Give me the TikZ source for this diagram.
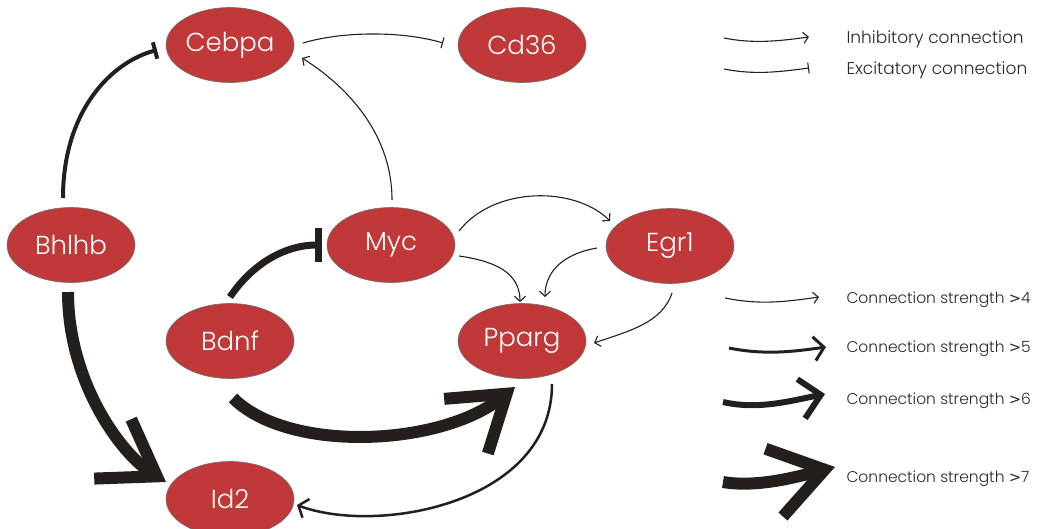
\documentclass[tikz,border=0pt]{standalone}
\usepackage{fontspec}
\setmainfont{Poppins}[UprightFont=* Light]
\newfontfamily\symfont{DejaVu Sans}[Scale=0.95]
\usetikzlibrary{arrows.meta,shapes.geometric,calc}
\definecolor{genered}{RGB}{192,57,56}
\definecolor{ink}{RGB}{35,31,28}
\definecolor{legink}{RGB}{40,40,40}
\begin{document}
\begin{tikzpicture}[x=1pt,y=-1pt,
  gene/.style={ellipse, fill=genered, draw=black!55, line width=0.6pt,
    minimum width=128pt, minimum height=75pt, inner sep=0pt, text=white,
    font=\fontsize{26}{26}\selectfont},
  edge/.style={draw=ink},
  thinarr/.style={edge, line width=1.1pt, -{Straight Barb[length=5pt,width=11pt]}},
  medarr/.style={edge, line width=2.5pt, -{Straight Barb[length=8pt,width=20pt,sharp]}},
  arrfive/.style={edge, line width=3pt, -{Straight Barb[length=10pt,width=24pt,sharp]}},
  arrsix/.style={edge, line width=6pt, -{Straight Barb[length=20pt,width=40pt,sharp]}},
  bigarr/.style={edge, line width=12pt, -{Straight Barb[length=52pt,width=70pt,sharp]}},
  thinbar/.style={edge, line width=1.1pt, -{Bar[width=11pt]}},
  medbar/.style={edge, line width=4pt, -{Bar[width=17pt]}},
  thickbar/.style={edge, line width=7pt, -{Bar[width=34pt]}},
  legtxt/.style={anchor=west, text=legink, font=\fontsize{17}{18}\selectfont},
  strtxt/.style={anchor=west, text=legink, font=\fontsize{15.5}{16}\selectfont}
]
\useasboundingbox (0,0) rectangle (1041,528);

% genes
\node[gene] (cebpa) at (230,45) {Cebpa};
\node[gene] (cd36)  at (522,45) {Cd36};
\node[gene] (bhlhb) at (71,245) {Bhlhb};
\node[gene] (myc)   at (391,245) {Myc};
\node[gene] (egr1)  at (670,246) {Egr1};
\node[gene] (bdnf)  at (230,341) {Bdnf};
\node[gene] (pparg) at (522,341) {Pparg};
\node[gene] (id2)   at (230,499) {Id2};

% connections
\draw[medbar] ($(bhlhb)+(-8,-47)$) .. controls +(0,-88) and +(-45,12) .. ($(cebpa)+(-73,5)$);
\draw[thinbar] ($(cebpa)+(73,-2)$) .. controls +(40,-12) and +(-40,-12) .. ($(cd36)+(-79,-2)$);
\draw[thinarr] ($(myc)+(1,-45)$) .. controls +(0,-70) and +(40,25) .. ($(cebpa)+(72,13)$);
\draw[thinarr] ($(myc)+(68,-14)$) .. controls +(35,-45) and +(-35,-35) .. ($(egr1)+(-60,-25)$);
\draw[thinarr] ($(myc)+(68,11)$) .. controls +(35,5) and +(0,-30) .. ($(pparg)+(-2,-39)$);
\draw[thinarr] ($(egr1)+(-73,2)$) .. controls +(-30,5) and +(0,-28) .. ($(pparg)+(23,-44)$);
\draw[thinarr] ($(egr1)+(2,47)$) .. controls +(-10,30) and +(35,-12) .. ($(pparg)+(72,2)$);
\draw[thickbar] ($(bdnf)+(0,-44)$) .. controls +(20,-30) and +(-40,0) .. ($(myc)+(-69,0)$);
\draw[bigarr] ($(bhlhb)+(-3,47)$) .. controls +(0,90) and +(-45,-28) .. ($(id2)+(-64,-17)$);
\draw[bigarr] ($(bdnf)+(3,57)$) .. controls +(55,55) and +(-75,60) .. ($(pparg)+(-7,46)$);
\draw[medarr] ($(pparg)+(30,43)$) .. controls +(0,120) and +(80,30) .. ($(id2)+(67,6)$);

% legend: connection types
\coordinate (la1) at (724,38);  \coordinate (lb1) at (809,37);
\coordinate (la2) at (724,69);  \coordinate (lb2) at (809,68);
\draw[thinarr] (la1) .. controls +(30,6) and +(-30,4) .. (lb1);
\draw[thinbar] (la2) .. controls +(30,6) and +(-30,4) .. (lb2);
\node[legtxt] (tinh) at (843,39) {Inhibitory connection};
\node[legtxt] (texc) at (843,70) {Excitatory connection};

% legend: strengths
\coordinate (sa4) at (725,298); \coordinate (sb4) at (819,297);
\coordinate (sa5) at (729,348); \coordinate (sb5) at (826,347);
\coordinate (sa6) at (723,402); \coordinate (sb6) at (825,394);
\coordinate (sa7) at (723,482); \coordinate (sb7) at (835,467);
\draw[thinarr] (sa4) .. controls +(35,7) and +(-35,5) .. (sb4);
\draw[arrfive] (sa5) .. controls +(35,7) and +(-35,5) .. (sb5);
\draw[arrsix] (sa6) .. controls +(35,8) and +(-35,7) .. (sb6);
\draw[bigarr] (sa7) .. controls +(35,6) and +(-35,9) .. (sb7);
\node[strtxt] (s4) at (843,300) {Connection strength {\symfont >}4};
\node[strtxt] (s5) at (843,349) {Connection strength {\symfont >}5};
\node[strtxt] (s6) at (843,401) {Connection strength {\symfont >}6};
\node[strtxt] (s7) at (843,479) {Connection strength {\symfont >}7};
\end{tikzpicture}
\end{document}
